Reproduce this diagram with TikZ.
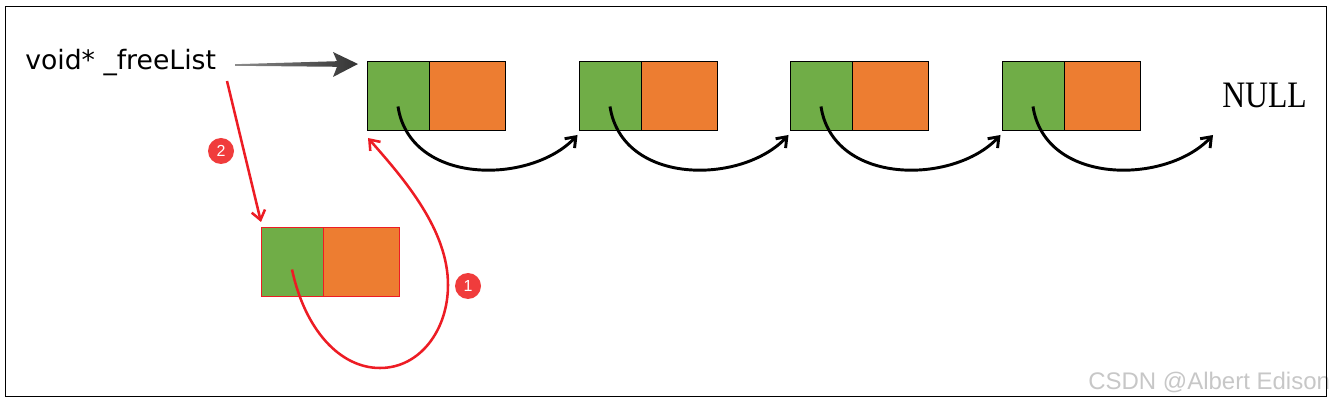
\documentclass[tikz,border=0pt]{standalone}
\usepackage{fontspec}
\usepackage{tikz}
\usetikzlibrary{positioning,arrows.meta,calc}
\newfontfamily\codefont{DejaVu Sans}
\newfontfamily\nilfont{Liberation Serif}
\newfontfamily\markfont{Liberation Sans}
\definecolor{cellgreen}{RGB}{112,173,71}
\definecolor{cellorange}{RGB}{237,125,49}
\definecolor{linkred}{RGB}{237,28,36}
\definecolor{badgered}{RGB}{240,60,60}
\definecolor{ptrgray}{RGB}{51,51,51}
\tikzset{
  >={Straight Barb[length=2.4mm,width=3.6mm]},
  cell/.style={draw=black,line width=0.75pt,minimum height=51.75pt,
    inner sep=0pt,outer sep=0pt},
  gcell/.style={cell,fill=cellgreen,minimum width=46.5pt},
  ocell/.style={cell,fill=cellorange,minimum width=57pt},
  link/.style={->,line width=2.2pt,black},
  redlink/.style={->,line width=1.9pt,linkred},
  badge/.style={circle,fill=badgered,minimum size=19.5pt,inner sep=0pt,
    text=white,font=\markfont\fontsize{12}{12}\selectfont},
  codelbl/.style={font=\codefont\fontsize{20}{20}\selectfont,inner sep=0pt},
  nillbl/.style={font=\nilfont\fontsize{28}{28}\selectfont,inner sep=0pt},
  wmark/.style={font=\markfont\fontsize{18}{18}\selectfont,text=black!22,
    inner sep=0pt},
}
\begin{document}
\begin{tikzpicture}[x=0.75pt,y=-0.75pt]
  \useasboundingbox (0,0) rectangle (1334,402);
  \node[wmark,anchor=base west] (wm) at (1088,389) {CSDN @Albert Edison};
  \draw[line width=0.75pt] (5,7) rectangle (1326,396);
  % free list
  \foreach \i/\x in {1/398,2/610,3/821,4/1033} {
    \node[gcell] (b\i g) at (\x,96.5) {};
    \node[ocell,right=0pt of b\i g] (b\i o) {};
  }
  \node[codelbl,anchor=base west] (fl) at (25,70) {void* \_freeList};
  \node[nillbl,anchor=base west] (null) at (1222,108) {\scalebox{0.85}[1]{NULL}};
  \coordinate (nil) at (1214.5,131);
  \foreach \i/\t in {1/b2g.south west,2/b3g.south west,3/b4g.south west,4/nil}
    \draw[link] ($(b\i g)+(0,10)$) .. controls +(12,79) and +(-47,50)
      .. ($(\t)+(-1.5,4)$);
  % pointer
  \coordinate (ps) at (235,65);
  \coordinate (pe) at ($(b1g.north west)+(-9,2)$);
  \shade[left color=black!45,right color=ptrgray]
    ($(ps)+(0,-0.8)$) -- ($(pe)+(-21,-2.8)$) -- ($(pe)+(-25,-12)$) -- (pe)
    -- ($(pe)+(-25,13)$) -- ($(pe)+(-21,2.8)$) -- ($(ps)+(0,0.8)$) -- cycle;
  % new block
  \node[gcell,draw=linkred] (c0g) at (292,262.5) {};
  \node[ocell,draw=linkred,right=0pt of c0g] (c0o) {};
  \draw[redlink] ($(c0g)+(0,7)$) .. controls (305,330) and (340,368) .. (380,368)
    .. controls (420,368) and (448,330) .. (448,285)
    .. controls (448,230) and (405,180) .. ($(b1g.south west)+(1,7)$);
  \coordinate (fls) at (227,81);
  \draw[redlink] (fls) -- ($(c0g.north west)+(0,-6)$);
  \node[badge] (m1) at (468,286) {1};
  \node[badge] (m2) at (221,151) {2};
\end{tikzpicture}
\end{document}
